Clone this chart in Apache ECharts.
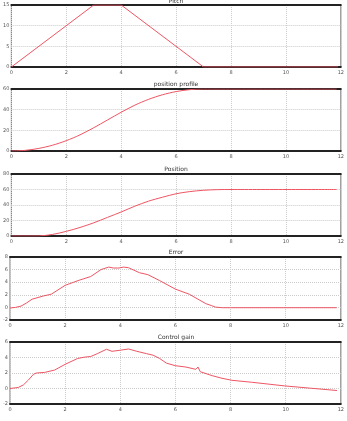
<!DOCTYPE html>
<html>
<head>
<meta charset="utf-8">
<script src="https://cdn.jsdelivr.net/npm/echarts@6/dist/echarts.min.js"></script>
<style>
  html, body { margin: 0; padding: 0; background: #ffffff; }
  #chart { width: 347px; height: 421px; }
</style>
</head>
<body>
<div id="chart"></div>
<script>
// subplot titles and axis ticks
const titles = ['Pitch', 'position profile', 'Position', 'Error', 'Control gain'];
const xTicks = [0, 2, 4, 6, 8, 10, 12];
const yMins = [0, 0, 0, -2, -2];
const yMaxs = [15, 60, 80, 8, 6];
const ySteps = [5, 20, 20, 2, 2];

// series (time, value)
const pitchT = [0, 3, 4, 7, 11.9];
const pitchV = [0, 15, 15, 0, 0];

const profileT = [0, 0.5, 1, 1.5, 2, 2.5, 3, 3.5, 4, 4.5, 5, 5.5, 6, 6.5, 7, 11.85];
const profileV = [0, 0.6, 2.5, 5.6, 10, 15.6, 22.5, 30, 37.5, 44.4, 50, 54.4, 57.5, 59.4, 60, 60];

const positionT = [0, 0.5, 1, 1.5, 2, 2.5, 3, 3.5, 4, 4.5, 5, 5.5, 6, 6.5, 7, 7.5, 8, 11.85];
const positionV = [0, 0, 0.1, 2, 6, 11, 17, 24, 31, 38.5, 45, 50, 54.5, 57.3, 59, 59.8, 60, 60];

const errorT = [0, 0.2, 0.4, 0.6, 0.8, 1.2, 1.5, 2, 2.5, 2.93, 3.3, 3.58, 3.75, 3.95, 4.12, 4.3, 4.7, 5, 5.43, 6, 6.5, 6.86, 7.1, 7.3, 7.45, 7.7, 8, 11.85];
const errorV = [-0.1, 0, 0.2, 0.7, 1.3, 1.8, 2.1, 3.5, 4.3, 4.9, 6.0, 6.4, 6.25, 6.25, 6.4, 6.3, 5.5, 5.2, 4.25, 2.9, 2.1, 1.2, 0.6, 0.3, 0.05, -0.05, -0.05, -0.05];

const gainT = [0, 0.3, 0.49, 0.67, 0.85, 0.96, 1.26, 1.62, 2, 2.45, 2.69, 2.93, 3.17, 3.5, 3.7, 4, 4.3, 4.6, 4.95, 5.19, 5.43, 5.67, 6, 6.38, 6.74, 6.82, 6.9, 7.33, 7.69, 8.05, 8.76, 9.95, 10.9, 11.86];
const gainV = [0, 0.13, 0.47, 1.1, 1.83, 2.0, 2.08, 2.38, 3.12, 3.87, 4.04, 4.13, 4.5, 5.06, 4.8, 4.94, 5.1, 4.8, 4.5, 4.3, 3.87, 3.28, 2.94, 2.77, 2.47, 2.77, 2.17, 1.66, 1.32, 1.06, 0.81, 0.34, 0.04, -0.26];

const seriesT = [pitchT, profileT, positionT, errorT, gainT];
const seriesV = [pitchV, profileV, positionV, errorV, gainV];

const gridTops = [5, 89, 174, 257, 342];
const gridHeights = [62, 62, 62, 63, 62];
const lineColor = '#ee5563';

const grids = [];
const xAxes = [];
const yAxes = [];
const series = [];
const titleList = [];

gridTops.forEach((top, i) => {
  grids.push({
    left: 8, right: 3, top: top, height: gridHeights[i],
    show: true, borderColor: '#777', borderWidth: 1
  });
  xAxes.push({
    type: 'value', gridIndex: i, min: 0, max: 12, interval: 2,
    axisLine: { onZero: false, lineStyle: { color: '#222', width: 2 } },
    axisTick: { show: false },
    axisLabel: { fontSize: 5, color: '#555', margin: 3, fontFamily: 'DejaVu Sans' },
    splitLine: { lineStyle: { color: '#cccccc', type: 'dotted', width: 1 } }
  });
  xAxes.push({
    type: 'value', gridIndex: i, position: 'top', min: 0, max: 12,
    axisLine: { onZero: false, lineStyle: { color: '#222', width: 2 } },
    axisTick: { show: false }, axisLabel: { show: false }, splitLine: { show: false }
  });
  yAxes.push({
    type: 'value', gridIndex: i, min: yMins[i], max: yMaxs[i], interval: ySteps[i],
    axisLine: { show: false },
    axisTick: { show: false },
    axisLabel: { fontSize: 5, color: '#555', margin: 2, fontFamily: 'DejaVu Sans' },
    splitLine: { lineStyle: { color: '#cccccc', type: 'dotted', width: 1 } }
  });
  series.push({
    type: 'line', xAxisIndex: i * 2, yAxisIndex: i,
    data: seriesT[i].map((t, k) => [t, seriesV[i][k]]),
    showSymbol: false, smooth: i === 1 || i === 2 ? 0.3 : false,
    lineStyle: { color: lineColor, width: 1 }
  });
  titleList.push({
    text: titles[i], left: 176, top: Math.max(top - 8, -2), textAlign: 'center', padding: 0,
    textStyle: { fontSize: 6, fontWeight: 'normal', color: '#333', fontFamily: 'DejaVu Sans' }
  });
});

const chart = echarts.init(document.getElementById('chart'));
chart.setOption({
  animation: false,
  backgroundColor: '#ffffff',
  title: titleList,
  grid: grids,
  xAxis: xAxes,
  yAxis: yAxes,
  series: series
});
</script>
</body>
</html>
